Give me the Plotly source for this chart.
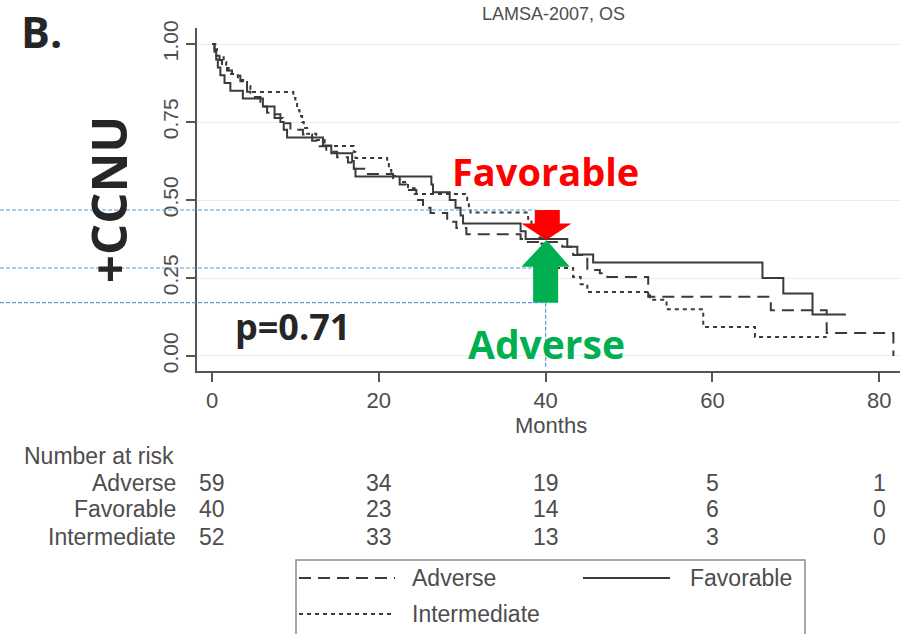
import plotly.graph_objects as go

# ---------------- data ----------------
months_adverse = [0, 0.3, 0.6, 0.9, 1.2, 1.8, 2.4, 3.4, 4.2, 4.6, 5.8, 6.6, 7.5, 8.5, 9.4,
                  10.9, 12.0, 12.9, 13.7, 15.0, 16.3, 16.9, 18.5, 21.7, 22.5, 23.3, 24.5,
                  25.3, 26.2, 28.2, 29.3, 30.5, 37.0, 37.5, 42.0, 43.3, 45.0, 46.5, 47.4,
                  52.3, 67.0, 73.7, 81.7]
surv_adverse = [1.0, .983, .966, .949, .932, .915, .898, .881, .847, .83, .80, .78, .763, .746,
                .725, .71, .69, .672, .655, .637, .62, .60, .583, .565, .55, .532, .50, .475,
                .458, .43, .41, .39, .375, .365, .35, .324, .276, .265, .253, .19, .147, .074, .0]

months_favorable = [0, 0.3, 0.5, 0.7, 1.0, 1.5, 2.2, 3.7, 6.1, 7.5, 8.2, 8.6, 9.0, 13.3, 14.3,
                    16.8, 17.0, 17.2, 26.3, 26.5, 28.5, 29.2, 29.8, 30.1, 37.0, 37.6, 42.6,
                    43.8, 45.7, 66.0, 68.5, 72.0, 76.0]
surv_favorable = [1.0, .975, .95, .925, .90, .875, .85, .825, .80, .775, .75, .725, .70, .675,
                  .65, .625, .60, .575, .55, .525, .50, .475, .45, .425, .40, .375, .35, .325,
                  .30, .25, .20, .133, .133]

months_intermediate = [0, 0.4, 0.56, 1.4, 1.7, 2.0, 3.1, 4.2, 4.6, 9.75, 10.0, 10.2, 10.5, 10.8,
                       11.0, 11.4, 12.5, 13.5, 17.0, 17.2, 21.0, 21.2, 21.5, 22.5, 23.5, 24.3,
                       30.6, 30.8, 31.0, 37.9, 38.3, 38.7, 39.1, 39.5, 39.9, 40.3, 40.8, 41.4,
                       43.3, 44.2, 45.0, 52.5, 54.5, 58.9, 65.1, 73.7]
surv_intermediate = [1.0, .981, .962, .942, .923, .904, .885, .865, .846, .827, .808, .788, .769,
                     .75, .731, .712, .692, .673, .654, .635, .615, .596, .577, .558, .538, .519,
                     .50, .48, .46, .44, .42, .40, .38, .36, .34, .32, .30, .282, .253, .23, .205,
                     .18, .15, .093, .061, .061]

risk_times = [0, 20, 40, 60, 80]
risk_groups = ["Adverse", "Favorable", "Intermediate"]
risk_adverse = [59, 34, 19, 5, 1]
risk_favorable = [40, 23, 14, 6, 0]
risk_intermediate = [52, 33, 13, 3, 0]

y_ticks = [0, 0.25, 0.5, 0.75, 1.0]
y_ticktext = ["0.00", "0.25", "0.50", "0.75", "1.00"]
x_ticks = [0, 20, 40, 60, 80]

guide_levels = [0.468, 0.282, 0.171]   # blue reference lines (survival)
guide_ends = [38.95, 38.5, 40.0]        # months where they stop
guide_month = 40

# ---------------- layout geometry ----------------
W, H = 908, 634
L, R, T, B = 197, 900, 28, 371
XR = [-1.8, 82.49]
YR = [-0.0481, 1.0513]


def px(x):
    return (x - L) / (R - L)


def py(y):
    return (B - y) / (B - T)


def ys(s):
    return (s - YR[0]) / (YR[1] - YR[0])


def xs(t):
    return (t - XR[0]) / (XR[1] - XR[0])


LINE_COL = "#3a3a3a"
TXT_COL = "#4d4d4d"
SANS = "Liberation Sans, Arial, sans-serif"
BOLD = "Open Sans, Lato, sans-serif"

fig = go.Figure()
curves = [
    ("Adverse", months_adverse, surv_adverse, "12px,7px"),
    ("Favorable", months_favorable, surv_favorable, "solid"),
    ("Intermediate", months_intermediate, surv_intermediate, "4px,4px"),
]
for name, t, s, dash in curves:
    fig.add_trace(go.Scatter(x=t, y=s, mode="lines", name=name, showlegend=False,
                             line=dict(shape="hv", color=LINE_COL, width=2, dash=dash),
                             hoverinfo="skip"))

shapes = []
# arrows
shapes.append(dict(type="path", xref="x", yref="y",
                   path="M 38.7,0.468 L 41.7,0.468 L 41.7,0.425 L 43.1,0.425 L 40.1,0.372 "
                        "L 37.1,0.425 L 38.7,0.425 Z",
                   fillcolor="#FF0000", line=dict(width=0), layer="above"))
shapes.append(dict(type="path", xref="x", yref="y",
                   path="M 40.1,0.372 L 42.9,0.286 L 41.5,0.286 L 41.5,0.171 L 38.5,0.171 "
                        "L 38.5,0.286 L 37.1,0.286 Z",
                   fillcolor="#00B050", line=dict(width=0), layer="above"))
# blue guides
BLUE = "#5B9BD5"
for lvl, end in zip(guide_levels, guide_ends):
    shapes.append(dict(type="line", xref="paper", yref="paper",
                       x0=px(0), x1=xs(end), y0=ys(lvl), y1=ys(lvl),
                       line=dict(color=BLUE, width=1.2, dash="4px,2px"), layer="above"))
shapes.append(dict(type="line", xref="paper", yref="paper",
                   x0=xs(guide_month), x1=xs(guide_month), y0=ys(guide_levels[2]), y1=ys(-0.04),
                   line=dict(color=BLUE, width=1.2, dash="4px,2px"), layer="above"))

# legend box
shapes.append(dict(type="rect", xref="paper", yref="paper",
                   x0=px(296), x1=px(805), y0=py(560), y1=py(670),
                   line=dict(color="#8a8a8a", width=1.5), fillcolor="rgba(0,0,0,0)"))
leg_items = [("12px,7px", 299, 395, 578, "Adverse", 410),
             ("solid", 583, 670, 578, "Favorable", 688),
             ("4px,4px", 299, 392, 614, "Intermediate", 410)]
annotations = []
for dash, x0, x1, yy, label, xt in leg_items:
    shapes.append(dict(type="line", xref="paper", yref="paper",
                       x0=px(x0), x1=px(x1), y0=py(yy), y1=py(yy),
                       line=dict(color=LINE_COL, width=2, dash=dash)))
    annotations.append(dict(xref="paper", yref="paper", x=px(xt), y=py(yy), text=label,
                            showarrow=False, xanchor="left", yanchor="middle",
                            font=dict(family=SANS, size=23, color=TXT_COL)))

# texts
annotations += [
    dict(xref="paper", yref="paper", x=px(553), y=py(14), text="LAMSA-2007, OS",
         showarrow=False, xanchor="center", yanchor="middle",
         font=dict(family=SANS, size=18, color=TXT_COL)),
    dict(xref="paper", yref="paper", x=px(41), y=py(32), text="<b>B.</b>",
         showarrow=False, xanchor="center", yanchor="middle",
         font=dict(family=BOLD, size=43, color="#262626")),
    dict(xref="paper", yref="paper", x=px(108), y=py(200), text="<b>+CCNU</b>",
         showarrow=False, xanchor="center", yanchor="middle", textangle=-90,
         font=dict(family=BOLD, size=49, color="#262626")),
    dict(xref="paper", yref="paper", x=px(545), y=py(171), text="<b>Favorable</b>",
         showarrow=False, xanchor="center", yanchor="middle",
         font=dict(family=BOLD, size=38, color="#FF0000")),
    dict(xref="paper", yref="paper", x=px(546), y=py(343), text="<b>Adverse</b>",
         showarrow=False, xanchor="center", yanchor="middle",
         font=dict(family=BOLD, size=39, color="#00B050")),
    dict(xref="paper", yref="paper", x=px(292), y=py(326), text="<b>p=0.71</b>",
         showarrow=False, xanchor="center", yanchor="middle",
         font=dict(family=BOLD, size=36, color="#262626")),
    dict(xref="paper", yref="paper", x=px(551), y=py(425), text="Months",
         showarrow=False, xanchor="center", yanchor="middle",
         font=dict(family=SANS, size=22, color=TXT_COL)),
    dict(xref="paper", yref="paper", x=px(22), y=py(456), text="Number at risk",
         showarrow=False, xanchor="left", yanchor="middle",
         font=dict(family=SANS, size=23, color=TXT_COL)),
]
row_y = [483, 509, 537]
for grp, vals, yy in zip(risk_groups, [risk_adverse, risk_favorable, risk_intermediate], row_y):
    annotations.append(dict(xref="paper", yref="paper", x=px(178), y=py(yy), text=grp,
                            showarrow=False, xanchor="right", yanchor="middle",
                            font=dict(family=SANS, size=23, color=TXT_COL)))
    for t, v in zip(risk_times, vals):
        annotations.append(dict(xref="x", yref="paper", x=t, y=py(yy), text=str(v),
                                showarrow=False, xanchor="center", yanchor="middle",
                                font=dict(family=SANS, size=23, color=TXT_COL)))

fig.update_layout(
    width=W, height=H,
    margin=dict(l=L, r=W - R, t=T, b=H - B, pad=0),
    plot_bgcolor="white", paper_bgcolor="white",
    shapes=shapes, annotations=annotations,
    xaxis=dict(range=XR, tickvals=x_ticks, ticks="outside", ticklen=9, tickwidth=1.5,
               tickcolor="#555", showline=True, linecolor="#555", linewidth=1.5,
               showgrid=False, zeroline=False,
               tickfont=dict(family=SANS, size=22, color=TXT_COL)),
    yaxis=dict(range=YR, tickvals=y_ticks, ticktext=y_ticktext, tickangle=-90,
               ticks="outside", ticklen=9, tickwidth=1.5, tickcolor="#555",
               showline=True, linecolor="#555", linewidth=1.5,
               showgrid=True, gridcolor="#ececec", gridwidth=1, zeroline=False,
               tickfont=dict(family=SANS, size=21, color=TXT_COL)),
)

fig.write_html("out.html")
